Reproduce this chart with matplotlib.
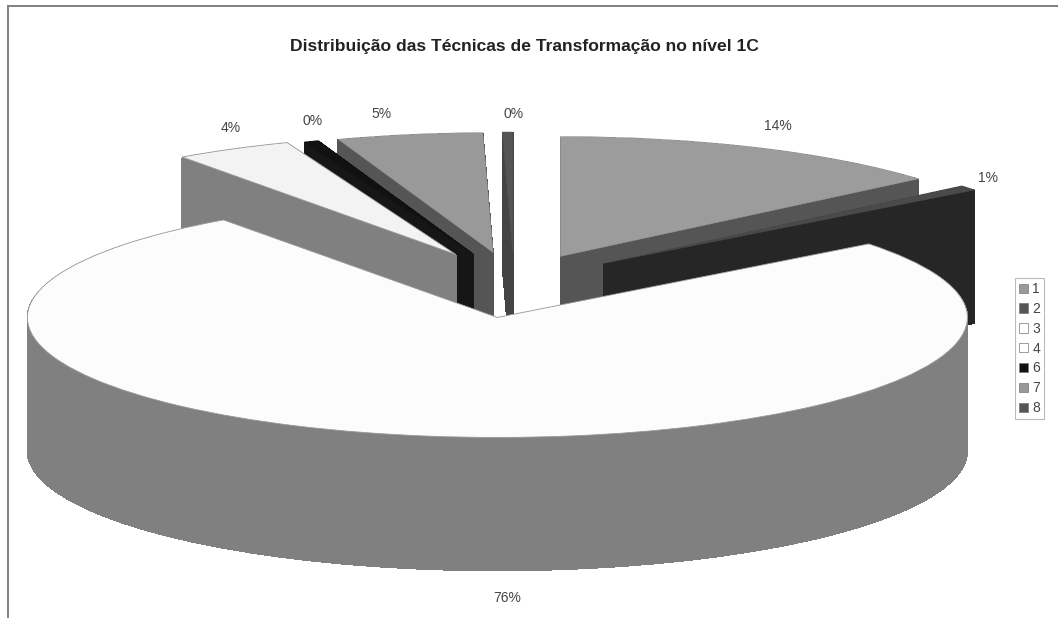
#!/usr/bin/env python3
import matplotlib
matplotlib.use('Agg')
import matplotlib.pyplot as plt
from matplotlib.lines import Line2D
from matplotlib.patches import Wedge

plt.rcParams['font.family'] = ['Liberation Sans', 'DejaVu Sans']

W, H = 1058, 618

title = 'Distribuição das Técnicas de Transformação no nível 1C'
categories = ['1', '2', '3', '4', '6', '7', '8']
values = [13.8, 0.7, 75.6, 4.05, 0.5, 5.0, 0.35]
pct_labels = ['14%', '1%', '76%', '4%', '0%', '5%', '0%']
top_colors = ['#9c9c9c', '#4a4a4a', '#fcfcfc', '#f3f3f3', '#111111', '#999999', '#555555']
side_colors = ['#555555', '#262626', '#808080', '#808080', '#161616', '#555555', '#444444']
legend_colors = ['#999999', '#555555', '#ffffff', '#ffffff', '#111111', '#999999', '#555555']
explode = [0.235, 0.245, 0.29, 0.26, 0.25, 0.25, 0.25]
label_px = [(778, 126), (988, 178), (507, 598), (231, 128), (313, 121), (381, 114), (514, 114)]
draw_order = [6, 5, 4, 3, 0, 1, 2]  # back slices first, the big one on top

# pie geometry in pixels
cx, cy = 514, 282
rx, ry = 470, 120
depth = 133


def main():
    fig = plt.figure(figsize=(W / 100, H / 100), dpi=100, facecolor='white')
    ax = fig.add_axes([0, 0, 1, 1])

    wedges, _ = ax.pie(values, explode=explode, startangle=90,
                       counterclock=False, colors=top_colors)
    ax.set_aspect('auto')
    ax.set_xlim(-cx / rx, (W - cx) / rx)
    ax.set_ylim((cy - H) / ry, cy / ry)

    # big slice sits a little to the right of where the explode puts it
    big = wedges[2]
    big.set_center((big.center[0] + 3 / rx, big.center[1] - 1 / ry))

    # extrude each slice downwards, one pixel at a time
    for n, i in enumerate(draw_order):
        w = wedges[i]
        for k in range(depth, 0, -1):
            ax.add_patch(Wedge((w.center[0], w.center[1] - k / ry), w.r, w.theta1, w.theta2,
                               facecolor=side_colors[i], edgecolor=side_colors[i], lw=0.5,
                               antialiased=False, zorder=10 + n * 3))
        w.set_zorder(11 + n * 3)
        if i in (2, 3):
            w.set_edgecolor('#999999')
            w.set_linewidth(0.6)
        else:
            w.set_edgecolor(top_colors[i])
            w.set_linewidth(0.3)

    for txt, (px, py) in zip(pct_labels, label_px):
        fig.text(px / W, 1 - py / H, txt, ha='center', va='center', fontsize=10, color='#444444')

    fig.text(524 / W, 1 - 46 / H, title, ha='center', va='center', fontsize=12.6,
             fontweight='bold', color='#222222')

    handles = [plt.Rectangle((0, 0), 1, 1, facecolor=c, edgecolor='#777777', lw=0.5)
               for c in legend_colors]
    leg = fig.legend(handles, categories, loc='upper left',
                     bbox_to_anchor=(1015 / W, 1 - 278 / H), fontsize=10, frameon=True,
                     fancybox=False, edgecolor='#aaaaaa', borderpad=0.3, labelspacing=0.42,
                     handlelength=0.65, handleheight=0.65, handletextpad=0.3, borderaxespad=0,
                     labelcolor='#444444')
    leg.get_frame().set_linewidth(0.8)

    # chart area border, only left and top are inside the crop
    fig.add_artist(Line2D([8 / W, 8 / W], [0, 1 - 6 / H], color='#808080', lw=1.4))
    fig.add_artist(Line2D([8 / W, 1], [1 - 6 / H, 1 - 6 / H], color='#808080', lw=1.4))

    fig.savefig('out.png', dpi=100)


if __name__ == '__main__':
    main()
